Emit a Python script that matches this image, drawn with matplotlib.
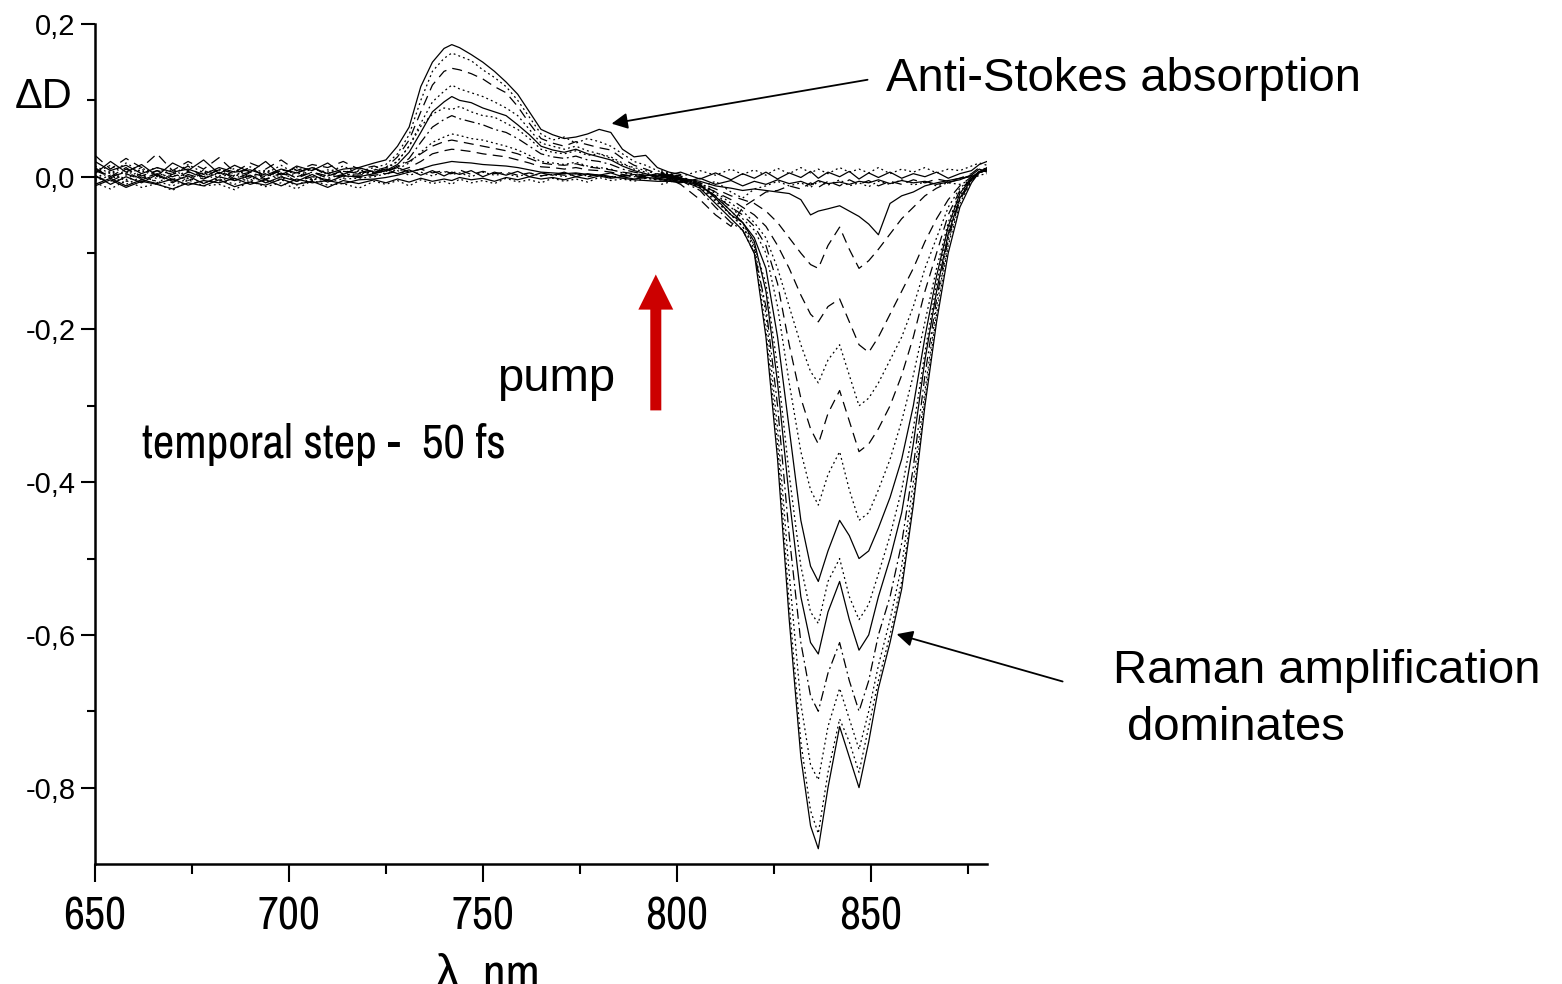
import matplotlib
matplotlib.use("Agg")
import matplotlib.pyplot as plt
from matplotlib import font_manager
from matplotlib.patches import FancyArrow

plt.rcParams['font.family'] = ['Liberation Sans', 'DejaVu Sans']

# pick a narrow sans for the condensed labels, if one is installed
font_names = {f.name for f in font_manager.fontManager.ttflist}
NARROW = ['Liberation Sans']
narrow_scale = 0.86
for cand in ['Liberation Sans Narrow', 'Arial Narrow', 'Archivo Narrow', 'Roboto Condensed',
             'PT Sans Narrow', 'Fira Sans Condensed', 'IBM Plex Sans Condensed']:
    if cand in font_names:
        NARROW = [cand, 'Liberation Sans']
        narrow_scale = 1.0
        break

# wavelength grids, nm
wl_as = [650, 654, 658, 662, 666, 670, 674, 678, 682, 686, 690, 694, 698, 702, 706, 710, 714, 718, 722,
         725, 728, 731, 734, 737, 740, 742, 744, 747, 750, 753, 756, 759, 762, 765, 768, 771, 774, 777,
         780, 783, 786, 789, 792, 795, 798, 801]
wl_rm = [796, 801, 806, 810, 814, 817, 820, 823, 826, 829, 832, 834.5, 836.5, 839, 842, 844.5, 847,
         849.5, 852, 855, 858, 861, 864, 867, 870, 873, 876, 878, 880]

# anti-Stokes side (650-800 nm), delta D
as_1 = [0.02, 0.008, 0.015, 0.004, 0.012, 0.006, 0.01, 0.003, 0.012, 0.006, 0.009, 0.002, 0.01, 0.005, 0.012,
        0.004, 0.01, 0.012, 0.018, 0.022, 0.04, 0.065, 0.118, 0.15, 0.168, 0.173, 0.169, 0.16, 0.15, 0.138,
        0.124, 0.108, 0.085, 0.062, 0.055, 0.05, 0.052, 0.056, 0.062, 0.058, 0.036, 0.026, 0.028, 0.012, 0.006, 0.003]
as_2 = [0.005, 0.015, 0.002, 0.012, 0.0, 0.01, -0.002, 0.008, 0.001, 0.011, -0.001, 0.009, 0.003, 0.012, 0.0,
        0.009, 0.004, 0.007, 0.012, 0.016, 0.03, 0.055, 0.1, 0.138, 0.155, 0.162, 0.158, 0.152, 0.14, 0.13,
        0.118, 0.1, 0.078, 0.056, 0.048, 0.052, 0.044, 0.05, 0.046, 0.04, 0.03, 0.02, 0.015, 0.008, 0.002, 0.0]
as_3 = [0.012, -0.002, 0.01, 0.001, 0.008, -0.004, 0.006, 0.0, 0.009, -0.003, 0.005, 0.0, 0.008, -0.002, 0.006,
        0.001, 0.008, 0.004, 0.008, 0.012, 0.026, 0.048, 0.085, 0.12, 0.138, 0.142, 0.14, 0.135, 0.128, 0.118,
        0.11, 0.092, 0.07, 0.05, 0.044, 0.04, 0.046, 0.042, 0.038, 0.035, 0.024, 0.015, 0.01, 0.004, 0.0, -0.002]
as_4 = [-0.004, 0.006, -0.006, 0.004, -0.008, 0.003, -0.005, 0.005, -0.006, 0.002, -0.007, 0.004, -0.004, 0.006, -0.005,
        0.003, -0.002, 0.004, 0.006, 0.01, 0.02, 0.04, 0.07, 0.098, 0.112, 0.12, 0.115, 0.11, 0.105, 0.098,
        0.09, 0.08, 0.062, 0.044, 0.04, 0.036, 0.04, 0.034, 0.03, 0.026, 0.018, 0.01, 0.006, 0.0, -0.003, -0.004]
as_5 = [0.002, -0.01, 0.0, -0.008, 0.003, -0.006, 0.001, -0.009, 0.0, -0.005, 0.002, -0.008, 0.0, -0.006, 0.003,
        -0.007, 0.001, 0.0, 0.004, 0.008, 0.016, 0.032, 0.058, 0.085, 0.098, 0.105, 0.1, 0.097, 0.09, 0.085,
        0.08, 0.068, 0.055, 0.04, 0.035, 0.032, 0.036, 0.03, 0.026, 0.022, 0.014, 0.008, 0.004, -0.002, -0.004, -0.006]
as_6 = [0.008, 0.0, 0.006, -0.003, 0.004, 0.0, 0.007, -0.002, 0.005, 0.001, 0.006, -0.003, 0.004, 0.0, 0.006,
        -0.002, 0.003, 0.002, 0.005, 0.007, 0.012, 0.024, 0.045, 0.065, 0.075, 0.08, 0.076, 0.072, 0.068, 0.062,
        0.058, 0.05, 0.04, 0.03, 0.026, 0.024, 0.027, 0.022, 0.02, 0.016, 0.01, 0.006, 0.003, 0.0, -0.002, -0.003]
as_7 = [-0.006, 0.002, -0.01, 0.0, -0.006, -0.012, -0.002, -0.008, -0.003, -0.01, -0.001, -0.007, -0.004, -0.011, -0.002,
        -0.006, -0.003, -0.002, 0.0, 0.004, 0.01, 0.018, 0.032, 0.045, 0.052, 0.056, 0.054, 0.05, 0.048, 0.044,
        0.04, 0.035, 0.028, 0.02, 0.018, 0.016, 0.019, 0.014, 0.012, 0.01, 0.005, 0.002, -0.002, -0.004, -0.005, -0.006]
as_8 = [0.0, -0.006, 0.004, -0.004, 0.002, -0.008, 0.003, -0.003, 0.006, -0.005, 0.001, -0.004, 0.005, -0.006, 0.0,
        -0.004, 0.002, -0.001, 0.002, 0.004, 0.007, 0.012, 0.02, 0.03, 0.034, 0.036, 0.035, 0.033, 0.03, 0.028,
        0.026, 0.022, 0.018, 0.013, 0.012, 0.01, 0.012, 0.009, 0.008, 0.006, 0.003, 0.0, -0.002, -0.003, -0.004, -0.004]
as_9 = [-0.01, -0.002, -0.012, -0.004, -0.009, -0.003, -0.011, -0.005, -0.008, -0.002, -0.01, -0.004, -0.012, -0.003, -0.008,
        -0.005, -0.009, -0.004, -0.003, -0.001, 0.002, 0.006, 0.01, 0.015, 0.018, 0.02, 0.019, 0.018, 0.016, 0.015,
        0.014, 0.012, 0.009, 0.006, 0.005, 0.004, 0.005, 0.003, 0.002, 0.0, -0.002, -0.004, -0.005, -0.006, -0.006, -0.007]
as_10 = [0.014, 0.004, 0.018, 0.006, 0.012, 0.002, 0.016, 0.005, 0.01, 0.0, 0.013, 0.004, 0.015, 0.003, 0.01,
         0.006, 0.014, 0.004, 0.009, 0.003, 0.008, 0.002, 0.006, 0.001, 0.007, 0.003, 0.005, 0.0, 0.006, 0.002,
         0.004, 0.0, 0.005, 0.001, 0.003, 0.0, 0.004, 0.001, 0.002, -0.001, 0.002, 0.0, 0.001, 0.003, 0.0, 0.001]
as_11 = [-0.012, -0.004, -0.014, -0.006, -0.01, -0.016, -0.008, -0.012, -0.004, -0.013, -0.007, -0.011, -0.003, -0.01, -0.006,
         -0.014, -0.005, -0.009, -0.004, -0.008, -0.003, -0.007, -0.002, -0.006, -0.003, -0.005, -0.001, -0.004, -0.002, -0.006,
         -0.001, -0.004, 0.0, -0.003, -0.001, -0.004, 0.0, -0.003, 0.001, -0.002, 0.0, -0.003, -0.001, -0.002, 0.0, -0.002]
as_12 = [0.028, 0.01, 0.024, 0.012, 0.03, 0.008, 0.02, 0.01, 0.025, 0.006, 0.018, 0.01, 0.022, 0.008, 0.016,
         0.012, 0.02, 0.01, 0.014, 0.008, 0.012, 0.006, 0.01, 0.005, 0.008, 0.004, 0.009, 0.003, 0.007, 0.004,
         0.006, 0.002, 0.005, 0.001, 0.004, 0.002, 0.004, 0.0, 0.003, 0.0, 0.002, 0.001, 0.0, 0.002, 0.0, 0.001]
as_13 = [0.004, 0.02, 0.006, 0.016, 0.001, 0.018, 0.008, 0.022, 0.004, 0.015, 0.006, 0.02, 0.002, 0.014, 0.008,
         0.018, 0.003, 0.012, 0.006, 0.01, 0.004, 0.009, 0.002, 0.008, 0.001, 0.006, 0.003, 0.008, 0.0, 0.006,
         0.002, 0.007, 0.0, 0.005, 0.002, 0.006, 0.0, 0.004, 0.002, 0.005, 0.0, 0.003, 0.001, 0.004, 0.0, 0.002]
as_14 = [-0.008, -0.016, -0.005, -0.014, -0.009, -0.018, -0.004, -0.012, -0.01, -0.017, -0.006, -0.013, -0.008, -0.016, -0.005,
         -0.011, -0.009, -0.015, -0.006, -0.01, -0.005, -0.012, -0.004, -0.009, -0.006, -0.01, -0.003, -0.008, -0.005, -0.009,
         -0.002, -0.007, -0.004, -0.008, -0.002, -0.006, -0.003, -0.007, -0.001, -0.005, -0.003, -0.006, -0.002, -0.004, -0.003, -0.004]
as_15 = [0.01, 0.0, 0.012, -0.002, 0.008, 0.003, 0.014, -0.001, 0.01, 0.004, 0.012, 0.0, 0.009, 0.005, 0.013,
         0.001, 0.007, 0.005, 0.01, 0.006, 0.014, 0.02, 0.03, 0.04, 0.046, 0.048, 0.046, 0.043, 0.04, 0.037,
         0.034, 0.03, 0.024, 0.018, 0.016, 0.015, 0.017, 0.013, 0.011, 0.009, 0.006, 0.004, 0.002, 0.0, -0.001, -0.002]
as_16 = [-0.002, 0.008, -0.004, 0.01, -0.003, 0.006, -0.006, 0.009, -0.002, 0.007, -0.005, 0.008, -0.001, 0.01, -0.004,
         0.006, 0.0, 0.008, 0.004, 0.012, 0.02, 0.04, 0.066, 0.082, 0.09, 0.088, 0.092, 0.085, 0.08, 0.078,
         0.07, 0.062, 0.05, 0.036, 0.032, 0.03, 0.034, 0.028, 0.03, 0.024, 0.016, 0.012, 0.008, 0.003, 0.0, -0.002]

# Raman side (796-880 nm), delta D
rm_0a = [0.006, 0.0, 0.008, 0.002, 0.01, 0.003, 0.009, 0.002, 0.011, 0.004, 0.012, 0.005, 0.01, 0.004, 0.012,
         0.006, 0.01, 0.005, 0.012, 0.004, 0.01, 0.006, 0.012, 0.005, 0.01, 0.008, 0.014, 0.018, 0.015]
rm_0b = [-0.004, -0.008, -0.002, -0.01, -0.005, -0.012, -0.006, -0.01, -0.004, -0.009, -0.006, -0.011, -0.005, -0.009, -0.007,
         -0.01, -0.006, -0.008, -0.004, -0.009, -0.005, -0.008, -0.006, -0.01, -0.007, -0.004, 0.002, 0.01, 0.006]
rm_0c = [0.0, 0.006, -0.003, 0.005, -0.004, 0.004, -0.002, 0.006, -0.003, 0.005, -0.001, 0.007, -0.002, 0.006, 0.0,
         0.007, -0.003, 0.005, -0.001, 0.006, -0.002, 0.004, 0.0, 0.006, -0.002, 0.004, 0.008, 0.016, 0.02]
rm_0d = [-0.01, -0.003, -0.014, -0.006, -0.02, -0.028, -0.016, -0.012, -0.006, -0.012, -0.008, -0.014, -0.006, -0.011, -0.004,
         -0.012, -0.008, -0.013, -0.006, -0.01, -0.004, -0.011, -0.007, -0.012, -0.008, -0.01, -0.004, 0.002, 0.004]
rm_0e = [0.002, -0.01, -0.03, -0.05, -0.065, -0.04, -0.03, -0.02, -0.018, -0.012, -0.016, -0.008, -0.014, -0.006, -0.012,
         -0.004, -0.01, -0.005, -0.012, -0.006, -0.01, -0.004, -0.008, -0.003, -0.006, -0.002, 0.004, 0.012, 0.01]
rm_1 = [0.003, -0.002, -0.006, -0.012, -0.015, -0.018, -0.016, -0.018, -0.02, -0.022, -0.03, -0.05, -0.045, -0.042, -0.038,
        -0.045, -0.052, -0.062, -0.076, -0.035, -0.025, -0.02, -0.012, -0.008, -0.005, -0.002, 0.0, 0.006, 0.008]
rm_2 = [0.004, -0.002, -0.008, -0.016, -0.025, -0.03, -0.035, -0.045, -0.06, -0.08, -0.1, -0.115, -0.12, -0.09, -0.066,
        -0.095, -0.12, -0.11, -0.095, -0.075, -0.055, -0.04, -0.025, -0.015, -0.008, -0.003, 0.002, 0.006, 0.008]
rm_3 = [0.003, -0.003, -0.01, -0.02, -0.03, -0.04, -0.05, -0.065, -0.09, -0.12, -0.155, -0.18, -0.19, -0.17, -0.16,
        -0.19, -0.22, -0.23, -0.21, -0.18, -0.15, -0.12, -0.085, -0.055, -0.03, -0.012, 0.0, 0.006, 0.008]
rm_4 = [0.006, 0.0, -0.008, -0.02, -0.035, -0.045, -0.06, -0.08, -0.12, -0.17, -0.22, -0.255, -0.27, -0.24, -0.22,
        -0.26, -0.3, -0.29, -0.27, -0.24, -0.21, -0.17, -0.12, -0.08, -0.04, -0.015, -0.002, 0.005, 0.009]
rm_5 = [0.002, -0.004, -0.012, -0.025, -0.04, -0.05, -0.065, -0.09, -0.14, -0.22, -0.29, -0.33, -0.35, -0.31, -0.28,
        -0.32, -0.36, -0.35, -0.33, -0.3, -0.26, -0.21, -0.15, -0.1, -0.05, -0.018, -0.002, 0.006, 0.008]
rm_6 = [0.005, -0.002, -0.01, -0.022, -0.04, -0.055, -0.07, -0.1, -0.17, -0.27, -0.36, -0.41, -0.43, -0.39, -0.36,
        -0.41, -0.45, -0.44, -0.41, -0.37, -0.32, -0.26, -0.19, -0.12, -0.06, -0.02, -0.003, 0.005, 0.009]
rm_7 = [0.003, -0.003, -0.012, -0.026, -0.045, -0.06, -0.08, -0.12, -0.21, -0.33, -0.45, -0.51, -0.53, -0.49, -0.45,
        -0.47, -0.5, -0.49, -0.46, -0.42, -0.37, -0.3, -0.21, -0.13, -0.065, -0.022, -0.002, 0.006, 0.008]
rm_8 = [0.006, -0.004, -0.014, -0.032, -0.05, -0.065, -0.09, -0.14, -0.25, -0.39, -0.51, -0.57, -0.585, -0.53, -0.5,
        -0.55, -0.58, -0.56, -0.52, -0.47, -0.41, -0.33, -0.23, -0.14, -0.07, -0.025, -0.004, 0.006, 0.01]
rm_9 = [0.004, -0.002, -0.01, -0.028, -0.05, -0.06, -0.085, -0.15, -0.27, -0.42, -0.55, -0.61, -0.625, -0.57, -0.53,
        -0.58, -0.62, -0.6, -0.55, -0.5, -0.44, -0.35, -0.24, -0.15, -0.075, -0.028, -0.003, 0.007, 0.01]
rm_10 = [0.0, -0.005, -0.018, -0.04, -0.06, -0.07, -0.1, -0.17, -0.3, -0.47, -0.61, -0.68, -0.7, -0.65, -0.61,
         -0.66, -0.7, -0.66, -0.6, -0.55, -0.48, -0.38, -0.26, -0.16, -0.08, -0.03, -0.006, 0.005, 0.01]
rm_11 = [0.008, 0.0, -0.01, -0.025, -0.045, -0.06, -0.09, -0.18, -0.33, -0.52, -0.69, -0.77, -0.79, -0.72, -0.67,
         -0.71, -0.75, -0.7, -0.64, -0.58, -0.51, -0.4, -0.28, -0.17, -0.085, -0.03, -0.004, 0.006, 0.009]
rm_12 = [0.002, -0.006, -0.012, -0.03, -0.05, -0.065, -0.095, -0.2, -0.35, -0.56, -0.74, -0.83, -0.86, -0.78, -0.71,
         -0.74, -0.78, -0.72, -0.66, -0.6, -0.53, -0.42, -0.29, -0.18, -0.09, -0.035, -0.005, 0.008, 0.01]
rm_13 = [0.005, -0.004, -0.015, -0.035, -0.055, -0.07, -0.1, -0.21, -0.37, -0.58, -0.76, -0.85, -0.88, -0.8, -0.72,
         -0.76, -0.8, -0.74, -0.67, -0.61, -0.54, -0.43, -0.3, -0.19, -0.1, -0.04, -0.008, 0.006, 0.012]

x_ticks = [650, 700, 750, 800, 850]
x_minor = [675, 725, 775, 825, 875]
y_ticks = [0.2, 0.0, -0.2, -0.4, -0.6, -0.8]
y_tick_labels = ['0,2', '0,0', '-0,2', '-0,4', '-0,6', '-0,8']
y_minor = [0.1, -0.1, -0.3, -0.5, -0.7]

SOLID = '-'
DASH = (0, (8, 5))
DOT = (0, (1.5, 2.5))
DASHDOT = (0, (8, 3, 1.5, 3))

W, H = 1562, 984


def fx(px):
    return px / W


def fy(py):
    return 1 - py / H


fig = plt.figure(figsize=(W / 100, H / 100), dpi=100)
ax = fig.add_axes([fx(95), fy(864), (987 - 95) / W, (864 - 24) / H])

as_curves = [(as_1, SOLID), (as_2, DOT), (as_3, DASH), (as_4, DOT), (as_5, SOLID), (as_6, DASHDOT),
             (as_7, DOT), (as_8, DASH), (as_9, SOLID), (as_10, DOT), (as_11, SOLID), (as_12, DASH),
             (as_13, SOLID), (as_14, DOT), (as_15, DASH), (as_16, DOT)]
rm_curves = [(rm_0a, DOT), (rm_0b, SOLID), (rm_0c, SOLID), (rm_0d, DOT), (rm_0e, DASH),
             (rm_1, SOLID), (rm_2, DASH), (rm_3, DASH), (rm_4, DOT),
             (rm_5, DASH), (rm_6, DOT), (rm_7, SOLID), (rm_8, DOT), (rm_9, SOLID), (rm_10, DASHDOT),
             (rm_11, DOT), (rm_12, DOT), (rm_13, SOLID)]

for vals, ls in as_curves:
    ax.plot(wl_as, vals, color='black', lw=0.9, linestyle=ls)
for vals, ls in rm_curves:
    ax.plot(wl_rm, vals, color='black', lw=0.9, linestyle=ls)

ax.set_xlim(650, 880)
ax.set_ylim(-0.9, 0.2)
ax.spines['top'].set_visible(False)
ax.spines['right'].set_visible(False)
ax.spines['left'].set_linewidth(1.8)
ax.spines['bottom'].set_linewidth(1.8)

ax.set_xticks(x_ticks, labels=[str(t) for t in x_ticks], fontfamily=NARROW, fontsize=33 * narrow_scale)
ax.set_xticks(x_minor, minor=True)
ax.set_yticks(y_ticks, labels=y_tick_labels, fontsize=21)
ax.set_yticks(y_minor, minor=True)
ax.tick_params(axis='x', which='major', length=13, width=1.5, pad=10)
ax.tick_params(axis='x', which='minor', length=7, width=1.5)
ax.tick_params(axis='y', which='major', length=10, width=1.5, pad=4)
ax.tick_params(axis='y', which='minor', length=6, width=1.5)

# pump arrow
ax.add_patch(FancyArrow(794.6, -0.306, 0, 0.178, width=2.84, head_width=9.0, head_length=0.046,
                        length_includes_head=True, color='#cc0000', lw=0, clip_on=False))

arrow_kw = dict(arrowstyle='-|>', color='black', lw=1.3, mutation_scale=24, shrinkA=0, shrinkB=0)
ax.annotate('', xy=(783.2, 0.0695), xytext=(849.2, 0.127), arrowprops=arrow_kw, annotation_clip=False)
ax.annotate('', xy=(856.7, -0.599), xytext=(899.5, -0.661), arrowprops=arrow_kw, annotation_clip=False)

fig.text(fx(886), fy(91), 'Anti-Stokes absorption', fontsize=34, va='baseline')
fig.text(fx(1113), fy(683), 'Raman amplification', fontsize=34, va='baseline')
fig.text(fx(1127), fy(740), 'dominates', fontsize=34, va='baseline')
fig.text(fx(497), fy(391), 'pump', fontsize=34, va='baseline')
fig.text(fx(142), fy(458), 'temporal step -  50 fs', fontsize=34 * narrow_scale, fontfamily=NARROW, va='baseline')
fig.text(fx(15), fy(108), 'ΔD', fontsize=30, va='baseline')
fig.text(fx(435), fy(989), 'λ, nm', fontsize=36 * narrow_scale, fontfamily=NARROW, va='baseline')

fig.savefig('out.png', dpi=100)
